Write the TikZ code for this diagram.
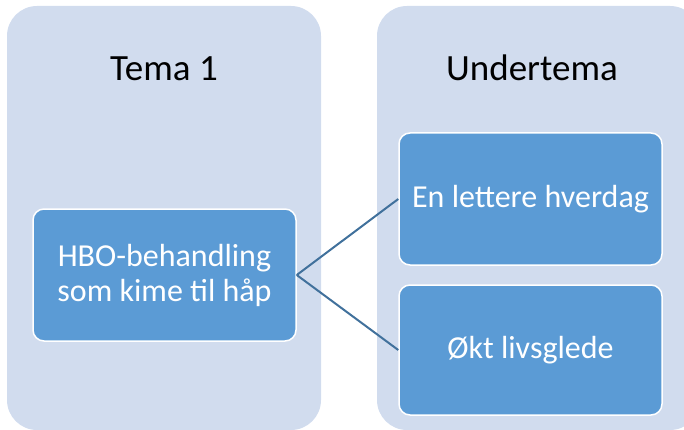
\documentclass[tikz,border=0pt]{standalone}
\usepackage{fontspec}
\setmainfont{Carlito}
\definecolor{panelfill}{HTML}{D1DCEE}
\definecolor{boxfill}{HTML}{5B9BD5}
\definecolor{linkcol}{HTML}{41719C}
\begin{document}
\begin{tikzpicture}[x=1pt,y=-1pt,
  panel/.style={fill=panelfill,draw=none,rounded corners=30pt},
  itembox/.style={fill=boxfill,draw=white,line width=1.5pt,rounded corners=11pt,
    text=white,font=\fontsize{32}{35}\selectfont,align=center,inner sep=0pt},
  header/.style={font=\fontsize{37}{40}\selectfont,text=black,anchor=base},
  link/.style={draw=linkcol,line width=2pt}]
\useasboundingbox (0,0) rectangle (684,430);
\fill[panel] (7,6) rectangle (321,430);
\fill[panel] (377,6) rectangle (700,430);
\node[header] (t1) at (164,81) {Tema 1};
\node[header] (ut) at (532,81) {Undertema};
\node[itembox,minimum width=263pt,minimum height=132pt] (hbo) at (164.5,275) {HBO-behandling\\som kime til håp};
\node[itembox,minimum width=263pt,minimum height=132pt] (hv) at (530.5,199) {En lettere hverdag};
\node[itembox,minimum width=263pt,minimum height=130pt] (ok) at (530.5,350) {Økt livsglede};
\draw[link] (hbo.east) -- (hv.west);
\draw[link] (hbo.east) -- (ok.west);
\end{tikzpicture}
\end{document}
